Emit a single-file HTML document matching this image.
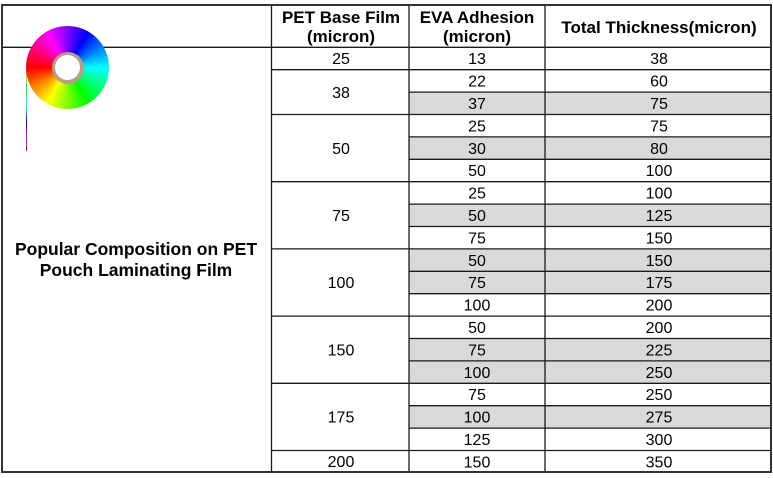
<!DOCTYPE html>
<html>
<head>
<meta charset="utf-8">
<style>
  html,body{margin:0;padding:0;background:#fff;}
  body{width:773px;height:478px;position:relative;overflow:hidden;font-family:"Liberation Sans",Arial,sans-serif;}
  svg{position:absolute;left:0;top:0;}
  .wheel{position:absolute;left:26px;top:26px;width:83px;height:83px;border-radius:50%;
    background:conic-gradient(from 0deg,#8000ff 0deg,#0000ff 30deg,#00ffff 90deg,#00ff00 150deg,#ffff00 210deg,#ff0000 270deg,#ff00ff 330deg,#8000ff 360deg);}
  .ring{position:absolute;left:51.7px;top:51.5px;width:32px;height:32px;border-radius:50%;background:#b89e82;}
  .hole{position:absolute;left:55px;top:54.8px;width:25.4px;height:25.4px;border-radius:50%;background:#fff;}
  .stem{position:absolute;left:26px;top:67px;width:1.3px;height:84px;
    background:linear-gradient(to bottom,#ffff00 0%,#00ff00 25%,#00ffff 48%,#0000ff 65%,#ff00ff 85%,#ff0000 100%);}
</style>
</head>
<body>
<svg width="773" height="478" viewBox="0 0 773 478" xmlns="http://www.w3.org/2000/svg" font-family="Liberation Sans, Arial, sans-serif">
  <!-- gray shaded rows (rows 2,4,7,9,10,13,14,16) -->
  <g fill="#d9d9d9">
    <rect x="409" y="92.1" width="362" height="22.4"/>
    <rect x="409" y="136.9" width="362" height="22.4"/>
    <rect x="409" y="204.1" width="362" height="22.4"/>
    <rect x="409" y="248.9" width="362" height="44.8"/>
    <rect x="409" y="338.5" width="362" height="44.8"/>
    <rect x="409" y="405.7" width="362" height="22.4"/>
  </g>
  <!-- inner lines -->
  <g stroke="#1a1a1a" stroke-width="1.3" fill="none">
    <line x1="2" y1="47.3" x2="771" y2="47.3"/>
    <line x1="271.5" y1="5" x2="271.5" y2="472"/>
    <line x1="409" y1="5" x2="409" y2="472"/>
    <line x1="545" y1="5" x2="545" y2="472"/>
    <!-- row lines cols 2-3 -->
    <line x1="409" y1="69.7" x2="771" y2="69.7"/>
    <line x1="409" y1="92.1" x2="771" y2="92.1"/>
    <line x1="409" y1="114.5" x2="771" y2="114.5"/>
    <line x1="409" y1="136.9" x2="771" y2="136.9"/>
    <line x1="409" y1="159.3" x2="771" y2="159.3"/>
    <line x1="409" y1="181.7" x2="771" y2="181.7"/>
    <line x1="409" y1="204.1" x2="771" y2="204.1"/>
    <line x1="409" y1="226.5" x2="771" y2="226.5"/>
    <line x1="409" y1="248.9" x2="771" y2="248.9"/>
    <line x1="409" y1="271.3" x2="771" y2="271.3"/>
    <line x1="409" y1="293.7" x2="771" y2="293.7"/>
    <line x1="409" y1="316.1" x2="771" y2="316.1"/>
    <line x1="409" y1="338.5" x2="771" y2="338.5"/>
    <line x1="409" y1="360.9" x2="771" y2="360.9"/>
    <line x1="409" y1="383.3" x2="771" y2="383.3"/>
    <line x1="409" y1="405.7" x2="771" y2="405.7"/>
    <line x1="409" y1="428.1" x2="771" y2="428.1"/>
    <line x1="409" y1="450.5" x2="771" y2="450.5"/>
    <!-- group lines col 1 -->
    <line x1="271" y1="69.7" x2="409" y2="69.7"/>
    <line x1="271" y1="114.5" x2="409" y2="114.5"/>
    <line x1="271" y1="181.7" x2="409" y2="181.7"/>
    <line x1="271" y1="248.9" x2="409" y2="248.9"/>
    <line x1="271" y1="316.1" x2="409" y2="316.1"/>
    <line x1="271" y1="383.3" x2="409" y2="383.3"/>
    <line x1="271" y1="450.5" x2="409" y2="450.5"/>
  </g>
  <!-- outer border -->
  <rect x="2" y="5" width="769" height="467" fill="none" stroke="#333" stroke-width="2"/>

  <!-- headers -->
  <g font-weight="bold" font-size="17" fill="#000" text-anchor="middle">
    <text x="341" y="23">PET Base Film</text>
    <text x="341" y="42">(micron)</text>
    <text x="477" y="23">EVA Adhesion</text>
    <text x="477" y="42">(micron)</text>
    <text x="659" y="33">Total Thickness(micron)</text>
  </g>

  <!-- left label -->
  <g font-weight="bold" font-size="17.5" fill="#000" text-anchor="middle">
    <text x="136" y="255">Popular Composition on PET</text>
    <text x="136" y="276">Pouch Laminating Film</text>
  </g>

  <!-- col 1 values -->
  <g font-size="16" fill="#000" text-anchor="middle">
    <text x="341" y="64.2">25</text>
    <text x="341" y="97.8">38</text>
    <text x="341" y="153.8">50</text>
    <text x="341" y="221">75</text>
    <text x="341" y="288.2">100</text>
    <text x="341" y="355.4">150</text>
    <text x="341" y="422.6">175</text>
    <text x="341" y="467">200</text>
  </g>

  <!-- col 2 values -->
  <g font-size="16" fill="#000" text-anchor="middle">
    <text x="477" y="64.2">13</text>
    <text x="477" y="86.6">22</text>
    <text x="477" y="109">37</text>
    <text x="477" y="131.4">25</text>
    <text x="477" y="153.8">30</text>
    <text x="477" y="176.2">50</text>
    <text x="477" y="198.6">25</text>
    <text x="477" y="221">50</text>
    <text x="477" y="243.4">75</text>
    <text x="477" y="265.8">50</text>
    <text x="477" y="288.2">75</text>
    <text x="477" y="310.6">100</text>
    <text x="477" y="333">50</text>
    <text x="477" y="355.4">75</text>
    <text x="477" y="377.8">100</text>
    <text x="477" y="400.2">75</text>
    <text x="477" y="422.6">100</text>
    <text x="477" y="445">125</text>
    <text x="477" y="467.4">150</text>
  </g>

  <!-- col 3 values -->
  <g font-size="16" fill="#000" text-anchor="middle">
    <text x="659" y="64.2">38</text>
    <text x="659" y="86.6">60</text>
    <text x="659" y="109">75</text>
    <text x="659" y="131.4">75</text>
    <text x="659" y="153.8">80</text>
    <text x="659" y="176.2">100</text>
    <text x="659" y="198.6">100</text>
    <text x="659" y="221">125</text>
    <text x="659" y="243.4">150</text>
    <text x="659" y="265.8">150</text>
    <text x="659" y="288.2">175</text>
    <text x="659" y="310.6">200</text>
    <text x="659" y="333">200</text>
    <text x="659" y="355.4">225</text>
    <text x="659" y="377.8">250</text>
    <text x="659" y="400.2">250</text>
    <text x="659" y="422.6">275</text>
    <text x="659" y="445">300</text>
    <text x="659" y="467.4">350</text>
  </g>
</svg>
<div class="stem"></div>
<div class="wheel"></div>
<div class="ring"></div>
<div class="hole"></div>
</body>
</html>
